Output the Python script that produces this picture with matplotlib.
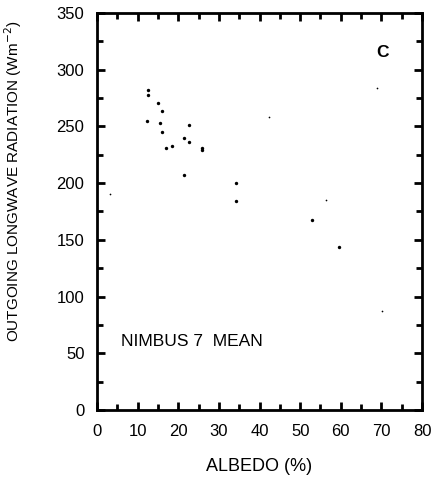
import matplotlib.pyplot as plt
from matplotlib.ticker import MultipleLocator

plt.rcParams['font.family'] = ['Liberation Sans', 'DejaVu Sans']

# Satellite mean points (albedo %, OLR W m-2)
albedo = [12.6, 12.6, 14.9, 15.9, 12.4, 15.4, 22.7, 16.1, 21.3, 22.7,
          17.1, 18.5, 25.9, 25.9, 21.3, 34.2, 34.2, 52.9, 59.6]
olr = [282, 278, 271, 264, 255, 253, 251, 245, 240, 236,
       231, 232.5, 231, 229, 207, 200, 184, 167.5, 143.5]

# faint specks
albedo_faint = [3.3, 42.4, 69.0, 56.3, 70.2]
olr_faint = [190, 258.6, 284, 185.5, 87.3]

fig = plt.figure(figsize=(4.32, 4.79), dpi=100)
ax = fig.add_axes([0.2245, 0.144, 0.7525, 0.829])

ax.scatter(albedo, olr, s=6, color='black', linewidths=0)
ax.scatter(albedo_faint, olr_faint, s=1.5, color='black', linewidths=0)

ax.set_xlim(0, 80)
ax.set_ylim(0, 350)
ax.xaxis.set_major_locator(MultipleLocator(10))
ax.xaxis.set_minor_locator(MultipleLocator(5))
ax.yaxis.set_major_locator(MultipleLocator(50))
ax.yaxis.set_minor_locator(MultipleLocator(25))
ax.tick_params(which='both', direction='in', top=True, right=True, width=2,
               labelsize=12)
ax.tick_params(which='major', length=6)
ax.tick_params(which='minor', length=4)
ax.tick_params(axis='x', which='major', pad=10)
ax.tick_params(axis='y', which='major', pad=9)
for s in ax.spines.values():
    s.set_linewidth(2)

ax.set_xlabel('ALBEDO (%)', fontsize=13)
ax.xaxis.set_label_coords(0.5, -0.122)
ax.set_ylabel('OUTGOING LONGWAVE RADIATION (Wm$^{-2}$)', fontsize=11)
ax.yaxis.set_label_coords(-0.226, 0.575)

ax.text(70.2, 315, 'C', fontsize=12.5, fontweight='bold', ha='center', va='center')
ax.text(5.8, 60, 'NIMBUS 7  MEAN', fontsize=12.5, ha='left', va='center')

fig.savefig('out.png', dpi=100)
